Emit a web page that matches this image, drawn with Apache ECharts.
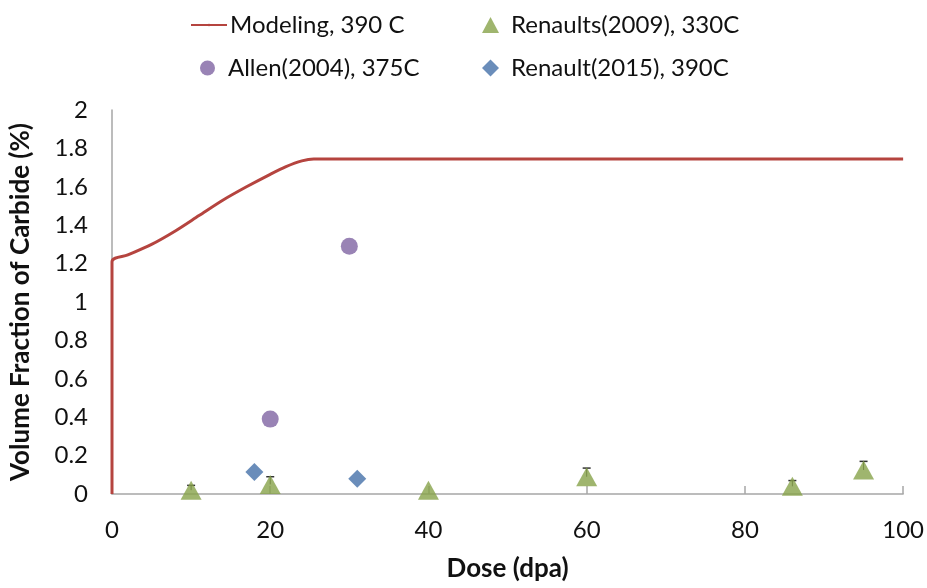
<!DOCTYPE html>
<html>
<head>
<meta charset="utf-8">
<title>Volume Fraction of Carbide</title>
<script src="https://cdn.jsdelivr.net/npm/echarts@6/dist/echarts.min.js"></script>
<style>
    html, body { margin: 0; padding: 0; background: #fff; }
    #chart { width: 927px; height: 588px; }
</style>
</head>
<body>
<div id="chart"></div>
<script>
// Modeling, 390 C
var modelDose = [0, 0, 2, 5, 8, 11, 14, 17, 20, 22, 24, 25.5, 27, 100];
var modelFrac = [0, 1.21, 1.245, 1.30, 1.37, 1.45, 1.53, 1.60, 1.665, 1.705, 1.735, 1.745, 1.745, 1.745];

// Renaults(2009), 330C
var renaultsDose = [10, 20, 40, 60, 86, 95];
var renaultsFrac = [0.02, 0.05, 0.02, 0.09, 0.04, 0.125];
var renaultsErr = [0.025, 0.04, 0, 0.045, 0.03, 0.045];

// Allen(2004), 375C
var allenDose = [20, 30];
var allenFrac = [0.39, 1.29];

// Renault(2015), 390C
var renault15Dose = [18, 31];
var renault15Frac = [0.115, 0.08];

var names = ['Modeling, 390 C', 'Renaults(2009), 330C', 'Allen(2004), 375C', 'Renault(2015), 390C'];

function pairs(xs, ys) {
    var out = [];
    for (var i = 0; i < xs.length; i++) {
        out.push([xs[i], ys[i]]);
    }
    return out;
}

var errData = [];
for (var i = 0; i < renaultsDose.length; i++) {
    errData.push([renaultsDose[i], renaultsFrac[i], renaultsFrac[i] + renaultsErr[i]]);
}

var font = 'Lato, "Noto Sans", sans-serif';
var legendText = {fontFamily: font, fontSize: 24, color: '#111'};

// one legend per entry so each can sit where the original puts it
function oneLegend(name, left, top, icon, w, h, gap) {
    var item = {name: name};
    if (icon) item.icon = icon;
    return {
        data: [item],
        left: left,
        top: top,
        itemWidth: w,
        itemHeight: h,
        itemGap: 0,
        textStyle: Object.assign({padding: [0, 0, 0, gap - 5]}, legendText),
        selectedMode: false
    };
}

var chart = echarts.init(document.getElementById('chart'));
chart.setOption({
    animation: false,
    backgroundColor: '#fff',
    legend: [
        oneLegend(names[0], 185, 8, null, 36, 3, 3),
        oneLegend(names[1], 477, 8, 'triangle', 17, 16, 12),
        oneLegend(names[2], 195, 51, 'circle', 15, 15, 13),
        oneLegend(names[3], 477, 51, 'diamond', 17, 17, 12)
    ],
    grid: {left: 107, right: 23, top: 110, bottom: 94, containLabel: false},
    xAxis: {
        type: 'value',
        min: 0, max: 100, interval: 20,
        name: 'Dose (dpa)',
        nameLocation: 'middle',
        nameGap: 62,
        nameTextStyle: {fontFamily: font, fontSize: 26, fontWeight: 'bold', color: '#111'},
        axisLine: {show: true, lineStyle: {color: '#a6a6a6', width: 1.5}},
        axisTick: {show: true, inside: true, length: 8, lineStyle: {color: '#a6a6a6', width: 1.5}},
        axisLabel: {fontFamily: font, fontSize: 24, color: '#111', margin: 24},
        splitLine: {show: false}
    },
    yAxis: {
        type: 'value',
        min: 0, max: 2, interval: 0.2,
        name: 'Volume Fraction of Carbide (%)',
        nameLocation: 'middle',
        nameGap: 78,
        nameTextStyle: {fontFamily: font, fontSize: 26, fontWeight: 'bold', color: '#111'},
        axisLine: {show: true, lineStyle: {color: '#a6a6a6', width: 1.5}},
        axisTick: {show: false},
        axisLabel: {fontFamily: font, fontSize: 24, color: '#111', margin: 24,
            formatter: function (v) { return String(Math.round(v * 10) / 10); }},
        splitLine: {show: false}
    },
    series: [
        {
            name: names[0],
            type: 'line',
            data: pairs(modelDose, modelFrac),
            smooth: 0.3,
            showSymbol: false,
            symbol: 'none',
            lineStyle: {color: '#b5443f', width: 3},
            itemStyle: {color: '#b5443f'},
            z: 3
        },
        {
            name: 'err',
            type: 'custom',
            data: errData,
            z: 2,
            renderItem: function (params, api) {
                var top = api.coord([api.value(0), api.value(2)]);
                var mid = api.coord([api.value(0), api.value(1)]);
                if (api.value(2) - api.value(1) <= 0) return null;
                return {
                    type: 'group',
                    children: [
                        {type: 'line', shape: {x1: mid[0], y1: mid[1], x2: top[0], y2: top[1]},
                            style: {stroke: '#333', lineWidth: 1}},
                        {type: 'line', shape: {x1: top[0] - 4, y1: top[1], x2: top[0] + 4, y2: top[1]},
                            style: {stroke: '#333', lineWidth: 1.5}}
                    ]
                };
            }
        },
        {
            name: names[1],
            type: 'scatter',
            data: pairs(renaultsDose, renaultsFrac),
            symbol: 'triangle',
            symbolSize: [21, 19],
            itemStyle: {color: '#87a34a'},
            z: 4
        },
        {
            name: names[2],
            type: 'scatter',
            data: pairs(allenDose, allenFrac),
            symbol: 'circle',
            symbolSize: 17,
            itemStyle: {color: '#8064a2'},
            z: 4
        },
        {
            name: names[3],
            type: 'scatter',
            data: pairs(renault15Dose, renault15Frac),
            symbol: 'diamond',
            symbolSize: 18,
            itemStyle: {color: '#4571a9'},
            z: 4
        }
    ]
});
</script>
</body>
</html>
